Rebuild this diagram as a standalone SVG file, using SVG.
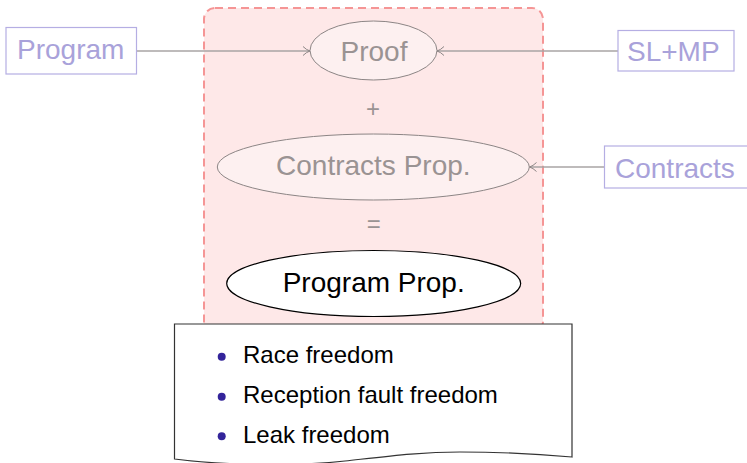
<svg xmlns="http://www.w3.org/2000/svg" width="747" height="463" viewBox="0 0 747 463">
  <defs>
    <style>
      text { font-family: "Liberation Sans", Arial, sans-serif; }
      .src rect { fill: #ffffff; stroke: #b5aee3; stroke-width: 1.2; }
      .src text { fill: #a9a2da; font-size: 28px; }
      .dim ellipse { fill: #fdf0f0; stroke: #8c8585; stroke-width: 1; }
      .dim text { fill: #9a9393; font-size: 28px; text-anchor: middle; }
      .op { fill: #9a9393; font-size: 24px; text-anchor: middle; }
      .edge { fill: none; stroke: #a8a4a4; stroke-width: 1.3; marker-end: url(#tip); }
      .item { fill: #000000; font-size: 24px; }
      .dot { fill: #33249a; }
    </style>
    <marker id="tip" viewBox="0 0 8 10" refX="7.5" refY="5" markerWidth="8" markerHeight="10" markerUnits="userSpaceOnUse" orient="auto">
      <path d="M0.5,0.5 Q4,4 7.5,5 Q4,6 0.5,9.5" fill="none" stroke="#8c8585" stroke-width="1"/>
    </marker>
  </defs>

  <!-- shaded region holding the proof equation -->
  <g id="frame">
    <rect x="204" y="8" width="339" height="325" rx="11" ry="11" fill="#fee8e8" stroke="#f59595" stroke-width="2" stroke-dasharray="8 5"/>
  </g>

  <!-- connectors -->
  <g id="connectors">
    <line class="edge" x1="137" y1="51" x2="310" y2="51"/>
    <line class="edge" x1="618" y1="51" x2="437" y2="51"/>
    <line class="edge" x1="604" y1="167" x2="529.5" y2="167"/>
  </g>

  <!-- inputs -->
  <g id="program" class="src">
    <rect x="6" y="27.5" width="130.5" height="46.5"/>
    <text x="17" y="58.5">Program</text>
  </g>
  <g id="slmp" class="src">
    <rect x="618" y="30.5" width="116" height="40.5"/>
    <text x="627" y="60.5">SL+MP</text>
  </g>
  <g id="contracts" class="src">
    <rect x="604.5" y="146" width="150" height="42"/>
    <text x="615" y="177.5">Contracts</text>
  </g>

  <!-- equation: Proof + Contracts Prop. = Program Prop. -->
  <g id="proof" class="dim">
    <ellipse cx="373.5" cy="50.5" rx="63.5" ry="29.5"/>
    <text x="374" y="61">Proof</text>
  </g>
  <text id="plus" class="op" x="373" y="117">+</text>
  <g id="contracts-prop" class="dim">
    <ellipse cx="373.3" cy="167" rx="156" ry="33"/>
    <text x="373.3" y="175">Contracts Prop.</text>
  </g>
  <text id="equals" class="op" x="373.7" y="232">=</text>
  <g id="program-prop">
    <ellipse cx="373.7" cy="283.5" rx="147" ry="33" fill="#ffffff" stroke="#000000" stroke-width="1.2"/>
    <text x="373.7" y="292" font-size="28" text-anchor="middle" fill="#000000">Program Prop.</text>
  </g>

  <!-- resulting properties -->
  <g id="properties">
    <path d="M174.5,324 H572 V457 C550,455 510,452 460,452 C420,452 390,456 345,461 C300,466 230,466 174.5,459 Z" fill="#ffffff" stroke="#333333" stroke-width="1.2"/>
    <circle class="dot" cx="221.7" cy="356.7" r="4"/>
    <circle class="dot" cx="221.7" cy="396.7" r="4"/>
    <circle class="dot" cx="221.7" cy="436.2" r="4"/>
    <text class="item" x="243" y="363.3">Race freedom</text>
    <text class="item" x="243" y="403">Reception fault freedom</text>
    <text class="item" x="243" y="442.7">Leak freedom</text>
  </g>
</svg>
